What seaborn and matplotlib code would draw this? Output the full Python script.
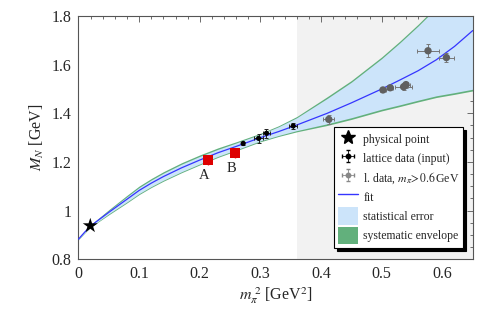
import numpy as np
import pandas as pd
import matplotlib
matplotlib.use("Agg")
import matplotlib.pyplot as plt
from matplotlib.lines import Line2D
from matplotlib.patches import Patch
from matplotlib.ticker import MultipleLocator, FixedLocator
import seaborn as sns

# ---------------- data ----------------
fit_x = [0.0, 0.01, 0.02, 0.05, 0.08, 0.10, 0.12, 0.14, 0.17, 0.20, 0.23, 0.26,
         0.30, 0.33, 0.36, 0.41, 0.45, 0.50, 0.53, 0.56, 0.59, 0.62, 0.65]
fit_y = [0.883, 0.911, 0.937, 0.993, 1.047, 1.083, 1.113, 1.140, 1.176, 1.208, 1.238, 1.264,
         1.300, 1.325, 1.352, 1.400, 1.443, 1.500, 1.537, 1.575, 1.620, 1.675, 1.740]
sys_lo = [0.880, 0.907, 0.932, 0.983, 1.032, 1.066, 1.095, 1.121, 1.156, 1.188, 1.219, 1.246,
          1.283, 1.305, 1.324, 1.350, 1.375, 1.410, 1.428, 1.447, 1.465, 1.478, 1.492]
sys_hi = [0.886, 0.915, 0.942, 1.004, 1.063, 1.101, 1.132, 1.160, 1.197, 1.229, 1.258, 1.283,
          1.318, 1.349, 1.387, 1.468, 1.535, 1.632, 1.697, 1.766, 1.840, 1.920, 2.000]
stat_lo = [0.881, 0.909, 0.934, 0.987, 1.036, 1.070, 1.099, 1.125, 1.160, 1.192, 1.223, 1.250,
           1.287, 1.309, 1.329, 1.357, 1.382, 1.417, 1.435, 1.454, 1.472, 1.485, 1.499]
stat_hi = [0.885, 0.913, 0.939, 0.999, 1.057, 1.095, 1.126, 1.154, 1.191, 1.223, 1.252, 1.278,
           1.314, 1.345, 1.382, 1.461, 1.528, 1.625, 1.690, 1.759, 1.833, 1.913, 1.993]

phys_x = [0.0195]
phys_y = [0.938]

red_labels = ["A", "B"]
red_x = [0.2134, 0.258]
red_y = [1.207, 1.236]
red_yerr = [0.020, 0.020]

input_x = [0.2715, 0.297, 0.310, 0.354]
input_y = [1.276, 1.297, 1.318, 1.348]
input_xerr = [0.002, 0.007, 0.0055, 0.0066]
input_yerr = [0.005, 0.020, 0.018, 0.014]

heavy_x = [0.4127, 0.502, 0.514, 0.536, 0.540, 0.5763, 0.6066]
heavy_y = [1.375, 1.496, 1.505, 1.509, 1.518, 1.657, 1.629]
heavy_xerr = [0.009, 0.005, 0.005, 0.014, 0.006, 0.018, 0.0126]
heavy_yerr = [0.020, 0.010, 0.010, 0.012, 0.012, 0.027, 0.018]

cut_x = 0.36
x_ticks = [0, 0.1, 0.2, 0.3, 0.4, 0.5, 0.6]
x_ticklabels = ["0", "0.1", "0.2", "0.3", "0.4", "0.5", "0.6"]
y_ticks = [0.8, 1.0, 1.2, 1.4, 1.6, 1.8]
y_ticklabels = ["0.8", "1", "1.2", "1.4", "1.6", "1.8"]

legend_labels = ["physical point", "lattice data (input)",
                 r"l. data, $m_\pi\!>\!0.6\,$GeV", "fit",
                 "statistical error", "systematic envelope"]

# ---------------- style ----------------
sns.set_style("white")
plt.rcParams["font.family"] = ["Liberation Serif", "DejaVu Serif"]
plt.rcParams["mathtext.fontset"] = "stix"

C_STAT = "#cce4fa"
C_SYS = "#62b07c"
C_FIT = "#3535ff"
C_GREY = "#f2f2f2"
C_FRAME = "#555555"

fig = plt.figure(figsize=(5.03, 3.11), dpi=100)
ax = fig.add_axes([0.156, 0.1662, 0.7838, 0.7824])

df = pd.DataFrame({"x": fit_x, "y": fit_y, "slo": sys_lo, "shi": sys_hi,
                   "tlo": stat_lo, "thi": stat_hi})

ax.axvspan(cut_x, 0.65, color=C_GREY, zorder=0, lw=0)
ax.fill_between(df["x"], df["slo"], df["shi"], color=C_SYS, lw=0, zorder=1)
ax.fill_between(df["x"], df["tlo"], df["thi"], color=C_STAT, lw=0, zorder=2)
sns.lineplot(data=df, x="x", y="y", color=C_FIT, lw=0.9, ax=ax, zorder=3,
             estimator=None, sort=False)

# red points
ax.errorbar(red_x, red_y, yerr=red_yerr, fmt="none", ecolor="#e03030",
            elinewidth=1.0, capsize=0, zorder=4)
sns.scatterplot(x=red_x, y=red_y, marker="s", s=55, color="#dd0000",
                edgecolor="none", ax=ax, zorder=5)
for lab, xx, yy in zip(red_labels, red_x, red_y):
    ax.annotate(lab, (xx, yy), xytext=(-2.5, -11), textcoords="offset points",
                ha="center", va="center", fontsize=10.5)

# lattice input
ax.errorbar(input_x, input_y, xerr=input_xerr, yerr=input_yerr, fmt="none",
            ecolor="#222222", elinewidth=0.7, capsize=1.5, capthick=0.7, zorder=4)
sns.scatterplot(x=input_x, y=input_y, marker="o", s=14, color="black",
                edgecolor="none", ax=ax, zorder=5)

# heavy pion points
ax.errorbar(heavy_x, heavy_y, xerr=heavy_xerr, yerr=heavy_yerr, fmt="none",
            ecolor="#777777", elinewidth=0.7, capsize=1.5, capthick=0.7, zorder=4)
sns.scatterplot(x=heavy_x, y=heavy_y, marker="o", s=28, color="#606060",
                edgecolor="none", ax=ax, zorder=5)

# physical point
sns.scatterplot(x=phys_x, y=phys_y, marker="*", s=130, color="black",
                edgecolor="none", ax=ax, zorder=6)

ax.set_xlim(0, 0.65)
ax.set_ylim(0.8, 1.8)
ax.xaxis.set_major_locator(FixedLocator(x_ticks))
ax.set_xticklabels(x_ticklabels)
ax.yaxis.set_major_locator(FixedLocator(y_ticks))
ax.set_yticklabels(y_ticklabels)
ax.xaxis.set_minor_locator(MultipleLocator(0.02))
ax.yaxis.set_minor_locator(MultipleLocator(0.05))
ax.tick_params(which="both", direction="in", top=True, right=True,
               color=C_FRAME, width=0.6)
ax.tick_params(which="major", length=4.5, labelsize=11.5, pad=5)
ax.tick_params(which="minor", length=2.5)
for sp in ax.spines.values():
    sp.set_color(C_FRAME)
    sp.set_linewidth(0.8)

ax.set_xlabel(r"$m_\pi^{\ 2}$ [GeV$^2$]", fontsize=11.5, labelpad=2)
ax.set_ylabel(r"$M_N$ [GeV]", fontsize=11.5, labelpad=4)

# legend handles (empty errorbar containers give the cross-shaped handle)
h_in = ax.errorbar([np.nan], [np.nan], xerr=[0.01], yerr=[0.01], fmt="o",
                   color="black", ms=3.2, elinewidth=0.6, capsize=1.2)
h_hv = ax.errorbar([np.nan], [np.nan], xerr=[0.01], yerr=[0.01], fmt="o",
                   color="#888888", ms=3.2, elinewidth=0.6, capsize=1.2)
handles = [
    Line2D([], [], marker="*", color="black", ls="none", markersize=10),
    h_in,
    h_hv,
    Line2D([], [], color=C_FIT, lw=1.0),
    Patch(facecolor=C_STAT, edgecolor="none"),
    Patch(facecolor=C_SYS, edgecolor="none"),
]
leg = ax.legend(handles, legend_labels, loc="upper left",
                bbox_to_anchor=(0.649, 0.545), borderaxespad=0,
                fontsize=8.5, frameon=True, fancybox=False,
                shadow={"color": "black", "alpha": 1.0, "ox": 2.2, "oy": -2.2},
                handlelength=1.7, handleheight=1.95, handletextpad=0.45,
                labelspacing=0.12, borderpad=0.3)
leg.get_frame().set_edgecolor("black")
leg.get_frame().set_linewidth(0.8)
leg.set_zorder(10)

fig.savefig("out.png", dpi=100)
